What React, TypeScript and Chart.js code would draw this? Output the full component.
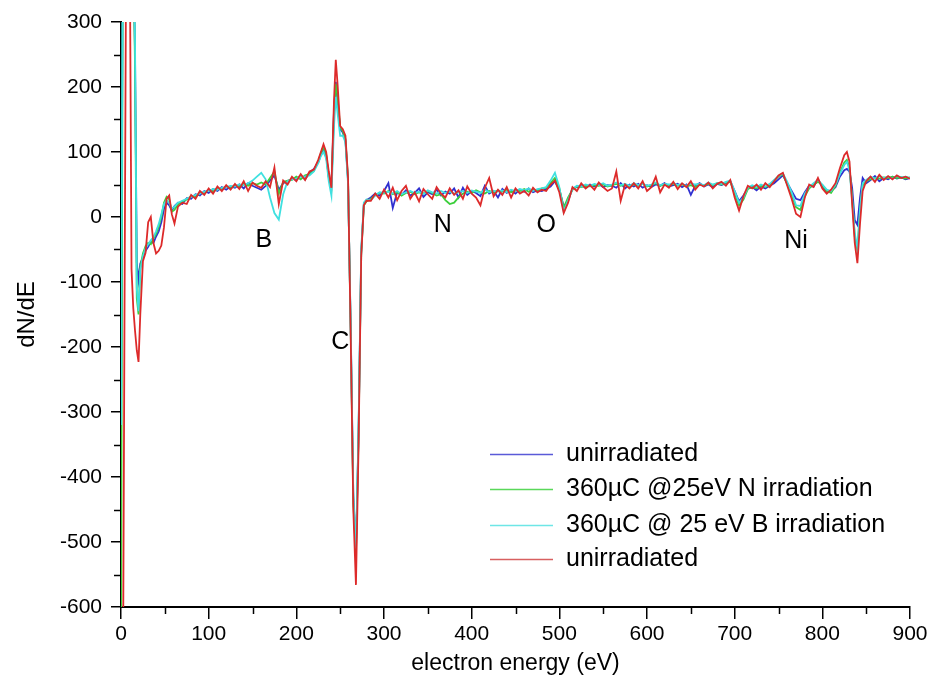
import { useEffect, useRef } from "react";
import { Chart, registerables } from "chart.js";

Chart.register(...registerables);

// electron energy (eV) sample positions
const energy = [
  0, 2, 4, 6, 8, 10, 12, 14, 16, 18, 20, 22,
  25, 28, 31, 34, 37, 40, 43, 46, 49, 52, 55, 58, 61,
  65,
  70, 75, 80, 85, 90, 95, 100, 105, 110, 115, 120, 125, 130, 135, 140, 145, 150, 155, 160, 165,
  170, 175, 180, 185, 190, 195, 200, 205, 210, 215, 220, 225,
  228, 231, 234, 237, 240, 243, 245, 247, 250, 253, 256, 259, 262, 265, 268, 271, 274, 277, 280,
  285, 290, 295, 300, 305, 310, 315, 320, 325, 330,
  335, 340, 345, 350, 355, 360, 365, 370, 375, 380,
  385, 390, 395, 400, 405, 410, 415, 420, 425, 430,
  435, 440, 445, 450, 455, 460, 465, 470, 475, 480,
  485, 490, 495, 500, 505, 510, 515, 520, 525, 530,
  535, 540, 545, 550, 555, 560, 565, 570, 575, 580,
  585, 590, 595, 600, 605, 610, 615, 620, 625, 630,
  635, 640, 645, 650, 655, 660, 665, 670, 675, 680,
  685, 690, 695, 700, 705, 710, 715, 720, 725, 730,
  735, 740, 745, 750, 755, 760, 765, 770, 775, 780,
  785, 790, 795, 800, 805, 810, 815,
  820, 825, 828, 831, 834, 837, 840, 843, 846, 850,
  855, 860, 865, 870, 875, 880, 885, 890, 895, 900,
];

// dN/dE, unirradiated (blue)
const unirradiatedBlue = [
  -330, 450, 500, 500, 500, 500, 480, 420, 250, -70, -97, -72,
  -62, -52, -46, -38, -40, -30, -22, -8, 12, 22, 18, 10, 17,
  22,
  20, 29, 28, 35, 33, 40, 37, 43, 40, 46, 42, 47, 45, 50, 44, 52, 48, 45, 42, 48,
  56, 64, 42, 52, 55, 59, 57, 64, 58, 68, 74, 84,
  96, 105, 95, 62, 48, 165, 208, 180, 135, 130, 118, 55, -170, -430, -515, -330, -55, 20, 26,
  30, 36, 33, 40, 52, 14, 38, 34, 41, 33,
  37, 44, 31, 38, 35, 42, 33, 39, 36, 44,
  30, 45, 34, 40, 37, 32, 48, 36, 40, 30,
  43, 37, 41, 36, 42, 39, 44, 38, 41, 40,
  43, 47, 55, 42, 16, 25, 44, 46, 49, 45,
  50, 47, 51, 46, 49, 48, 45, 52, 44, 50,
  47, 51, 45, 49, 46, 50, 48, 52, 47, 49,
  51, 46, 50, 34, 48, 52, 47, 50, 46, 51,
  49, 52, 55, 40, 24, 33, 44, 46, 41, 47,
  44, 48, 52, 58, 64, 52, 40, 28, 26, 38,
  48, 47, 58, 46, 38, 40, 46,
  62, 72, 74, 70, 45, -5, -12, 30, 60, 52,
  57, 63, 55, 60, 58, 62, 59, 61, 58, 60,
];

// dN/dE, 360µC @25eV N irradiation (green)
const nIrradiated = [
  -700, 420, 500, 500, 500, 500, 480, 420, 230, -125, -150, -78,
  -56, -45, -40, -42, -33, -26, -15, 0, 22, 31, 27, 8, 11,
  19,
  24, 27, 32, 31, 37, 36, 42, 39, 44, 43, 47, 44, 49, 46, 51, 48, 52, 50, 53, 50,
  60, 70, 36, 54, 56, 57, 62, 58, 64, 66, 71, 86,
  98, 108, 97, 60, 45, 160, 205, 185, 138, 132, 120, 58, -175, -440, -520, -335, -58, 18, 24,
  28, 34, 37, 36, 40, 35, 38, 33, 37, 39,
  35, 38, 36, 40, 37, 33, 35, 26, 20, 22,
  30, 36, 39, 37, 41, 38, 36, 40, 38, 41,
  39, 42, 38, 41, 40, 43, 39, 42, 41, 44,
  45, 52, 60, 44, 14, 30, 42, 47, 46, 48,
  47, 49, 48, 50, 47, 49, 51, 48, 50, 47,
  50, 48, 51, 47, 49, 52, 48, 50, 49, 51,
  48, 50, 47, 49, 46, 50, 48, 51, 49, 52,
  50, 53, 54, 36, 18, 27, 43, 46, 44, 48,
  46, 49, 56, 62, 66, 50, 34, 15, 11, 32,
  44, 50, 54, 49, 40, 37, 48,
  68, 84, 88, 76, 30, -30, -51, 10, 48, 55,
  58, 60, 59, 61, 60, 62, 60, 61, 59, 61,
];

// dN/dE, 360µC @ 25 eV B irradiation (cyan)
const bIrradiated = [
  -320, 400, 500, 500, 500, 500, 480, 430, 270, -110, -145, -82,
  -60, -48, -42, -36, -31, -22, -11, 4, 20, 26, 22, 13, 16,
  22,
  25, 28, 31, 34, 36, 39, 40, 43, 42, 45, 46, 48, 47, 50, 49, 52, 56, 62, 68, 58,
  30, 6, -4, 35, 55, 58, 59, 62, 62, 64, 70, 83,
  94, 100, 90, 55, 33, 140, 185, 160, 125, 125, 115, 50, -165, -425, -510, -325, -50, 22, 27,
  26, 33, 38, 37, 39, 36, 40, 35, 38, 40,
  37, 39, 35, 41, 38, 36, 40, 37, 39, 36,
  38, 40, 37, 41, 39, 37, 42, 38, 40, 39,
  41, 38, 42, 40, 43, 41, 44, 40, 43, 44,
  46, 56, 68, 46, 8, 26, 43, 48, 47, 50,
  48, 51, 49, 52, 48, 50, 53, 49, 51, 48,
  52, 49, 51, 48, 50, 53, 49, 51, 50, 52,
  49, 51, 48, 52, 50, 51, 49, 53, 50, 52,
  51, 54, 56, 40, 22, 30, 45, 49, 46, 50,
  47, 51, 57, 63, 67, 54, 38, 18, 17, 36,
  46, 52, 57, 50, 42, 40, 50,
  66, 80, 85, 72, 25, -25, -48, 12, 52, 57,
  62, 59, 63, 60, 62, 59, 63, 61, 62, 60,
];

// dN/dE, unirradiated (red)
const unirradiatedRed = [
  -800, -800, -150, 450, 500, 420, -80, -140, -175, -205, -223, -150,
  -68, -55, -8, 0, -40, -56, -52, -44, -16, 28, 33, 4, -10,
  16,
  22, 20, 34, 28, 40, 34, 44, 36, 47, 40, 49, 42, 51, 43, 55, 40, 53, 48, 45, 55,
  46, 76, 20, 56, 50, 62, 55, 66, 57, 70, 73, 88,
  100, 112, 100, 70, 45, 180, 242, 205, 140, 135, 125, 60, -180, -450, -566, -350, -60, 18, 25,
  25, 36, 28, 42, 30, 45, 26, 40, 48, 28,
  38, 24, 43, 35, 28, 46, 36, 30, 44, 34,
  41, 28, 47, 36, 30, 18, 45, 60, 32, 42,
  34, 46, 30, 44, 36, 40, 33, 45, 38, 42,
  40, 50, 56, 38, 6, 22, 46, 40, 52, 44,
  49, 42, 53, 46, 40, 44, 70, 25, 50, 44,
  52, 44, 55, 40, 46, 62, 38, 50, 45, 54,
  43, 52, 46, 55, 42, 50, 47, 53, 44, 51,
  54, 48, 57, 30, 10, 32, 48, 44, 50, 42,
  52, 46, 55, 64, 68, 48, 28, 5, 0, 30,
  50, 46, 60, 44, 36, 42, 52,
  75, 95, 100, 85, 20, -40, -71, -10, 40, 55,
  62, 54, 65, 57, 63, 58, 64, 60, 62, 59,
];

const seriesLabels = [
  "unirradiated",
  "360µC @25eV N irradiation",
  "360µC @ 25 eV B irradiation",
  "unirradiated",
];
const seriesColors = ["#3030d0", "#3ccf3c", "#3fe0e0", "#dd2a2a"];
const legendColors = ["#5a5ad8", "#5ad85a", "#6ee6e6", "#d86060"];

// element markers (text, energy, dN/dE)
const peakLabels = ["B", "C", "N", "O", "Ni"];
const peakEnergy = [163, 250, 367, 485, 770];
const peakLevel = [-35, -192, -12, -12, -37];

const xMin = 0;
const xMax = 900;
const yMin = -600;
const yMax = 300;

const SANS = "'Liberation Sans', Arial, sans-serif";

const decorPlugin = {
  id: "decor",
  afterDraw(chart: any) {
    const ctx = chart.ctx;
    const area = chart.chartArea;
    const xs = chart.scales.x;
    const ys = chart.scales.y;
    ctx.save();
    // minor ticks
    ctx.strokeStyle = "#000";
    ctx.lineWidth = 1.5;
    for (let v = xMin + 50; v < xMax; v += 100) {
      const px = Math.round(xs.getPixelForValue(v)) + 0.5;
      ctx.beginPath();
      ctx.moveTo(px, area.bottom);
      ctx.lineTo(px, area.bottom + 7);
      ctx.stroke();
    }
    for (let v = yMax - 50; v > yMin; v -= 100) {
      const py = Math.round(ys.getPixelForValue(v)) + 0.5;
      ctx.beginPath();
      ctx.moveTo(area.left - 7, py);
      ctx.lineTo(area.left, py);
      ctx.stroke();
    }
    // element labels
    ctx.fillStyle = "#000";
    ctx.font = `25px ${SANS}`;
    ctx.textAlign = "center";
    ctx.textBaseline = "middle";
    peakLabels.forEach((t, i) => {
      ctx.fillText(t, xs.getPixelForValue(peakEnergy[i]), ys.getPixelForValue(peakLevel[i]));
    });
    // legend
    const rowOffsets = [432, 467, 503, 537];
    const lx0 = area.left + 369;
    const lx1 = area.left + 432;
    const tx = area.left + 445;
    ctx.font = `25px ${SANS}`;
    ctx.textAlign = "left";
    chart.data.datasets.forEach((ds: any, i: number) => {
      const y = area.top + rowOffsets[i];
      ctx.strokeStyle = legendColors[i];
      ctx.lineWidth = 1.5;
      ctx.beginPath();
      ctx.moveTo(lx0, y + 0.5);
      ctx.lineTo(lx1, y + 0.5);
      ctx.stroke();
      ctx.fillStyle = "#000";
      ctx.fillText(ds.label, tx, y);
    });
    ctx.restore();
  },
};

export default function App() {
  const ref = useRef<HTMLCanvasElement | null>(null);

  useEffect(() => {
    document.body.style.margin = "0";
    const canvas = ref.current;
    if (!canvas) return;
    const seriesValues = [unirradiatedBlue, nIrradiated, bIrradiated, unirradiatedRed];
    const drawOrder = [3, 2, 1, 0];
    const chart = new Chart(canvas, {
      type: "line",
      data: {
        datasets: seriesValues.map((vals, i) => ({
          label: seriesLabels[i],
          data: energy.map((e, j) => ({ x: e, y: vals[j] })),
          borderColor: seriesColors[i],
          backgroundColor: seriesColors[i],
          borderWidth: 1.8,
          pointRadius: 0,
          tension: 0,
          fill: false,
          order: drawOrder[i],
        })),
      },
      options: {
        responsive: false,
        animation: false,
        events: [],
        layout: { padding: { top: 22, right: 23, bottom: 0, left: 0 } },
        plugins: {
          legend: { display: false },
          tooltip: { enabled: false },
        },
        scales: {
          x: {
            type: "linear",
            min: xMin,
            max: xMax,
            afterFit: (s: any) => {
              s.height = 77;
            },
            ticks: {
              stepSize: 100,
              autoSkip: false,
              maxRotation: 0,
              color: "#000",
              padding: 3,
              font: { family: SANS, size: 21 },
            },
            grid: {
              drawOnChartArea: false,
              drawTicks: true,
              tickLength: 12,
              color: "#000",
              lineWidth: 1.5,
            },
            border: { display: true, color: "#000", width: 2 },
            title: {
              display: true,
              text: "electron energy (eV)",
              color: "#000",
              font: { family: SANS, size: 23 },
              padding: { top: 0, bottom: 7 },
            },
          },
          y: {
            type: "linear",
            min: yMin,
            max: yMax,
            afterFit: (s: any) => {
              s.width = 121;
            },
            ticks: {
              stepSize: 100,
              autoSkip: false,
              color: "#000",
              padding: 9,
              font: { family: SANS, size: 21 },
            },
            grid: {
              drawOnChartArea: false,
              drawTicks: true,
              tickLength: 10,
              color: "#000",
              lineWidth: 1.5,
            },
            border: { display: true, color: "#000", width: 2 },
            title: {
              display: true,
              text: "dN/dE",
              color: "#000",
              font: { family: SANS, size: 24 },
              padding: { top: 13, bottom: 0 },
            },
          },
        },
      },
      plugins: [decorPlugin],
    });
    return () => chart.destroy();
  }, []);

  return (
    <div style={{ width: 933, height: 684, background: "#fff" }}>
      <canvas ref={ref} width={933} height={684} />
    </div>
  );
}
